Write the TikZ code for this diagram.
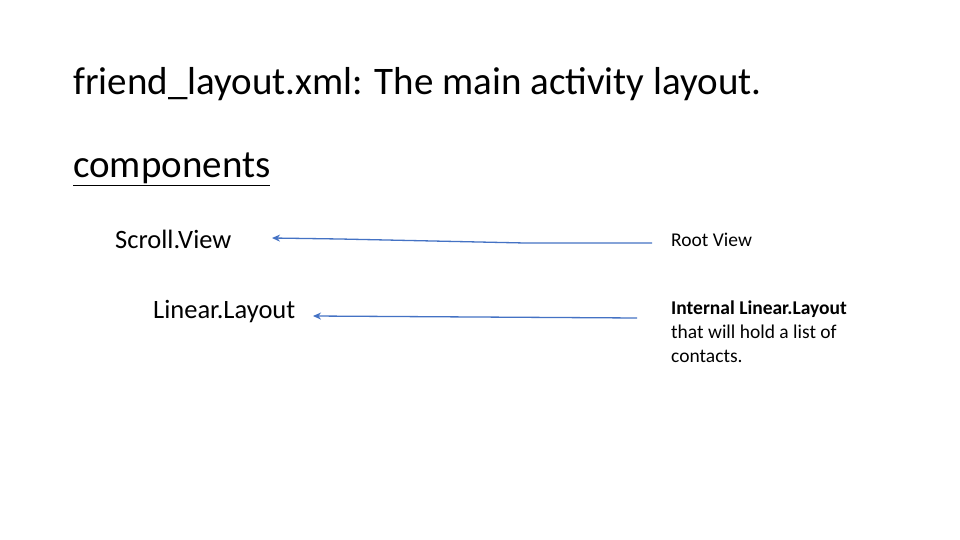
\documentclass[tikz,border=0pt]{standalone}
\usepackage{fontspec}
\setmainfont{Carlito}
\usetikzlibrary{arrows.meta}
\definecolor{lineblue}{HTML}{4472C4}
\begin{document}
\begin{tikzpicture}[x=1pt,y=-1pt,
  lbl/.style={anchor=base west,inner sep=0pt},
  conn/.style={draw=lineblue,line width=1.3pt,-{Stealth[length=8pt,width=7pt]}}]
\useasboundingbox[fill=white] (0,0) rectangle (960,540);
\node[lbl,font=\fontsize{39}{44}\selectfont] (title) at (73,95) {friend\_layout.xml: The main activity layout.};
\node[lbl,font=\fontsize{39}{44}\selectfont] (comp) at (73,178) {\underline{components}};
\node[lbl,font=\fontsize{26.5}{30}\selectfont] (sv) at (115,248) {Scroll.View};
\node[lbl,font=\fontsize{26.5}{30}\selectfont] (ll) at (153,318) {Linear.Layout};
\node[lbl,font=\fontsize{19.5}{24}\selectfont] (rv) at (671,246) {Root View};
\node[lbl,font=\fontsize{19.5}{24}\selectfont,align=left,anchor=north west] (il) at (671,301) {\textbf{Internal Linear.Layout}\\that will hold a list of\\contacts.};
\coordinate (a1) at (652,243);
\coordinate (b1) at (272,238);
\coordinate (a2) at (637,318);
\coordinate (b2) at (313,316);
\draw[conn] (a1) -- (525,243) -- (340,239) -- (b1);
\draw[conn] (a2) -- (b2);
\end{tikzpicture}
\end{document}
